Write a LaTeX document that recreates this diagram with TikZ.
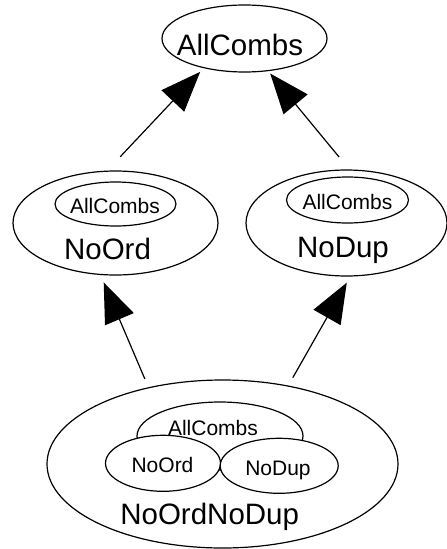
\documentclass[tikz,border=0pt]{standalone}
\usepackage{fontspec}
\setmainfont{Liberation Sans}
\usetikzlibrary{shapes.geometric,arrows.meta}

\begin{document}
\begin{tikzpicture}[x=1pt,y=-1pt,line width=1.2pt,
    >={Triangle[length=40pt,width=31pt]},
    setnode/.style={draw,ellipse,inner sep=0pt,fill=white},
    big/.style={font=\fontsize{29.5}{30}\selectfont,inner sep=0pt,anchor=base},
    small/.style={font=\fontsize{21}{22}\selectfont,inner sep=0pt,anchor=base}]
  \useasboundingbox (0,0) rectangle (447,549);
  % top
  \node[setnode,minimum width=165pt,minimum height=67pt] (AllCombs) at (244.5,38.5) {};
  \node[big] (AllCombs-name) at (240,55) {AllCombs};
  % middle row
  \node[setnode,minimum width=205pt,minimum height=104pt] (NoOrd) at (115.5,223) {};
  \node[setnode,minimum width=121pt,minimum height=44pt] (NoOrd-all) at (115.5,204) {};
  \node[small] (NoOrd-all-name) at (115,213.3) {AllCombs};
  \node[big] (NoOrd-name) at (107.5,259) {NoOrd};
  \node[setnode,minimum width=201pt,minimum height=106pt] (NoDup) at (346.5,223) {};
  \node[setnode,minimum width=122pt,minimum height=46pt] (NoDup-all) at (347.5,200) {};
  \node[small] (NoDup-all-name) at (347.5,209) {AllCombs};
  \node[big] (NoDup-name) at (343,257.5) {NoDup};
  % bottom
  \node[setnode,minimum width=351pt,minimum height=168pt] (NoOrdNoDup) at (222.5,464) {};
  \node[setnode,minimum width=166pt,minimum height=68pt] (NoOrdNoDup-all) at (220,436) {};
  \node[setnode,minimum width=115pt,minimum height=56pt] (NoOrdNoDup-ord) at (163,463.3) {};
  \node[setnode,minimum width=118pt,minimum height=55pt] (NoOrdNoDup-dup) at (279.2,465.8) {};
  \node[small] (NoOrdNoDup-all-name) at (213,435) {AllCombs};
  \node[small] (NoOrdNoDup-ord-name) at (162.5,472.3) {NoOrd};
  \node[small] (NoOrdNoDup-dup-name) at (278,475) {NoDup};
  \node[big] (NoOrdNoDup-name) at (209.7,524) {NoOrdNoDup};
  \path[->]
    (NoOrd.99) edge[shorten <=19pt,shorten >=5pt] (AllCombs.216)
    (NoDup.87) edge[shorten <=16pt,shorten >=3pt] (AllCombs.306)
    (NoOrdNoDup.134) edge[shorten <=9pt,shorten >=8pt] (NoOrd.254)
    (NoOrdNoDup.50) edge[shorten <=9pt,shorten >=7pt] (NoDup.274);
\end{tikzpicture}
\end{document}
